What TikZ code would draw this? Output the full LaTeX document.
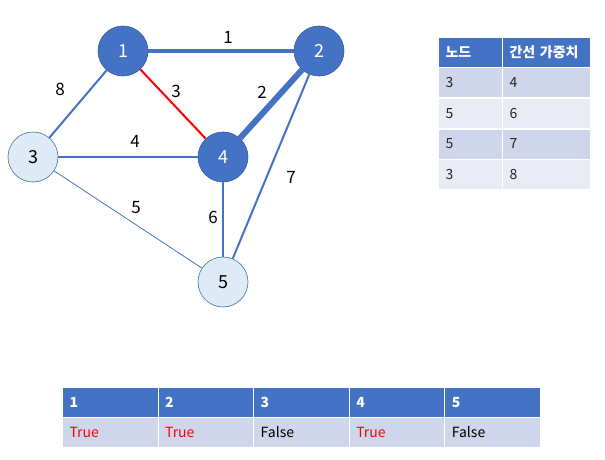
\documentclass[tikz,border=0pt]{standalone}
\usepackage{fontspec}
\setmainfont{Noto Sans CJK KR}
\definecolor{accent}{HTML}{4472C4}
\definecolor{lightfill}{HTML}{DEEBF7}
\definecolor{lightedge}{HTML}{41719C}
\definecolor{rowA}{HTML}{CFD5EA}
\definecolor{rowB}{HTML}{E9EBF5}
\definecolor{bodytext}{HTML}{262626}
\begin{document}
\begin{tikzpicture}[x=1pt,y=-1pt,
  visited/.style={circle,minimum size=50pt,inner sep=0pt,fill=accent,draw=accent!80!black,line width=0.6pt,text=white,font=\fontsize{18}{20}\selectfont},
  open/.style={circle,minimum size=50pt,inner sep=0pt,fill=lightfill,draw=lightedge,line width=0.6pt,text=black,font=\fontsize{18}{20}\selectfont},
  link/.style={draw=accent},
  weight/.style={font=\fontsize{17}{19}\selectfont,text=black,inner sep=0pt},
  cell/.style={anchor=north west,draw=white,line width=1pt,inner xsep=7pt,inner ysep=0pt,text width=#1-14pt,align=left,minimum height=30pt},
  cell/.default=64pt,
  head/.style={fill=accent,text=white,font=\fontsize{14}{16}\selectfont\bfseries},
  bodyA/.style={fill=rowA,text=bodytext,font=\fontsize{14}{16}\selectfont},
  bodyB/.style={fill=rowB,text=bodytext,font=\fontsize{14}{16}\selectfont}]
\useasboundingbox (0,0) rectangle (605,460);

% graph vertices
\node[visited] (n1) at (123,51) {1};
\node[visited] (n2) at (319,51) {2};
\node[open]    (n3) at (33,157) {3};
\node[visited] (n4) at (223,157) {4};
\node[open]    (n5) at (223,282) {5};

% graph edges, width by weight
\draw[link,line width=4pt] (n1) -- (n2);
\draw[draw=red,line width=2pt] (n1) -- (n4);
\draw[link,line width=6pt] (n2) -- (n4);
\draw[link,line width=2pt] (n1) -- (n3);
\draw[link,line width=2.5pt] (n3) -- (n4);
\draw[link,line width=0.8pt] (n3) -- (n5);
\draw[link,line width=2.8pt] (n4) -- (n5);
\draw[link,line width=2pt] (n2) -- (n5);

% edge weights
\node[weight] (w12) at (228,37) {1};
\node[weight] (w24) at (262,92) {2};
\node[weight] (w14) at (176,91) {3};
\node[weight] (w34) at (135,141) {4};
\node[weight] (w35) at (136,208) {5};
\node[weight] (w45) at (213,217) {6};
\node[weight] (w25) at (291,177) {7};
\node[weight] (w13) at (60,89) {8};

% candidate edge list
\node[cell,head] (t00) at (438,37) {노드};
\node[cell=88pt,head] (t01) at (502,37) {간선 가중치};
\node[cell,bodyA] (t10) at (438,67) {3};
\node[cell=88pt,bodyA] (t11) at (502,67) {4};
\node[cell,bodyB] (t20) at (438,98) {5};
\node[cell=88pt,bodyB] (t21) at (502,98) {6};
\node[cell,bodyA] (t30) at (438,128.5) {5};
\node[cell=88pt,bodyA] (t31) at (502,128.5) {7};
\node[cell,bodyB] (t40) at (438,159) {3};
\node[cell=88pt,bodyB] (t41) at (502,159) {8};

% visited flags
\node[cell=95.6pt,head] (v1) at (62,387) {1};
\node[cell=95.6pt,head] (v2) at (157.6,387) {2};
\node[cell=95.6pt,head] (v3) at (253.2,387) {3};
\node[cell=95.6pt,head] (v4) at (348.8,387) {4};
\node[cell=95.6pt,head] (v5) at (444.4,387) {5};
\node[cell=95.6pt,bodyA,text=red] (f1) at (62,417) {True};
\node[cell=95.6pt,bodyA,text=red] (f2) at (157.6,417) {True};
\node[cell=95.6pt,bodyA,text=black] (f3) at (253.2,417) {False};
\node[cell=95.6pt,bodyA,text=red] (f4) at (348.8,417) {True};
\node[cell=95.6pt,bodyA,text=black] (f5) at (444.4,417) {False};
\end{tikzpicture}
\end{document}
